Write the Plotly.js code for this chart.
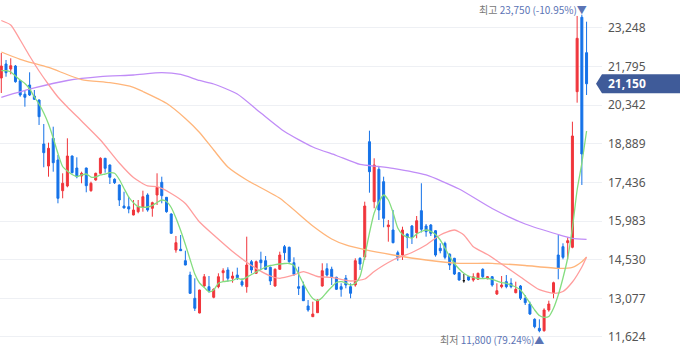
<!DOCTYPE html>
<html><head><meta charset="utf-8">
<script src="https://cdn.plot.ly/plotly-3.0.1.min.js"></script>
<style>html,body{margin:0;padding:0;background:#fff;} #chart{width:680px;height:358px;}</style>
</head><body><div id="chart"></div>
<script>
// Daily candles (125 sessions)
const openP = [21367,21893,21705,21818,21265,20754,21103,20690,20539,18884,
18056,19098,18282,17127,17304,18432,17981,17680,17981,17127,
17529,17781,18346,18094,17556,17342,16551,16525,16213,16337,
16503,16965,16465,16965,17443,16879,16250,14896,14923,14494,
13956,13079,12526,13542,13516,13117,13516,14042,14144,13832,
13956,13704,13516,14456,14019,14520,14494,14246,13542,14170,
15021,14998,14418,13516,13542,12790,12387,12537,13542,14193,
14170,13869,13516,13832,13516,13579,14584,14633,18970,16713,
17932,17466,15773,15648,14795,14708,15498,15799,15547,16375,
15799,15837,15622,14960,15148,14735,14584,14042,13741,13892,
13767,13794,14170,13817,13892,13241,13516,13704,13644,13290,
13542,13079,12864,12289,11950,11860,12639,13290,14708,15021,
15171,14998,20852,23651,22319];
const highP = [22307,22044,22108,21856,21291,20915,21581,20915,20560,19636,
18933,19535,18470,17781,19098,18450,18383,17842,17992,17466,
17804,18383,18360,18110,17594,17360,17089,16901,16777,16777,
17127,17029,16713,17781,17654,16890,16277,15423,15460,14870,
14080,13832,13400,13993,13918,13455,14019,14208,14246,14080,
14231,13832,15397,14520,14501,14832,14670,14268,14208,14832,
15085,15021,14621,14268,13704,13015,12951,13034,14396,14396,
14268,13892,13644,13956,13644,14584,14621,16713,19384,18346,
18030,17654,16025,16401,14870,15773,15524,15837,16175,17406,
15874,15874,15648,15148,15209,14772,14600,14055,13993,13900,
14019,14042,14208,13918,13918,13644,13918,13956,13832,13704,
13579,13203,12951,12327,12289,12703,12989,13704,15460,15148,
15374,19723,23700,23750,23485];
const lowP = [20802,21416,21506,21190,20663,20287,20690,20539,19599,18008,
17654,17842,16653,16841,17255,17781,17594,17406,17067,17089,
17503,17744,17804,17379,17379,16551,16465,16277,16200,16277,
16337,16337,16149,16589,16653,16299,15498,14795,14860,14320,
13241,12602,12515,13516,13290,13079,13455,13704,13704,13666,
13767,13516,13290,14019,13993,14144,14144,13579,13516,14163,
14520,14418,13918,13203,12980,12575,12380,12526,13516,13892,
13579,13391,13139,13455,13079,13516,14144,14520,17052,16465,
16025,15750,15209,15148,14494,14520,14960,15122,15337,15555,
15397,15423,14645,14772,14546,14144,13956,13741,13666,13741,
13704,13767,13832,13794,13516,13203,13455,13455,13455,13267,
13015,12827,12451,11950,11800,11823,12575,13079,13794,14546,
14546,14960,20438,17342,20727];
const closeP = [21818,21566,21829,21228,20727,20641,20727,20566,19911,18557,
18722,18180,16841,17406,18432,17804,17654,17781,17315,17406,
17781,18346,17970,17631,17428,16777,16476,16439,16401,16525,
16901,16401,16676,17255,16939,16337,15524,15171,14870,14332,
13267,12703,13391,13892,13365,13417,13892,14117,13832,13918,
13854,13579,14332,14144,14456,14418,14170,13730,14170,14708,
14795,14456,13982,13455,12989,12639,12489,13015,14117,13956,
13892,13417,13417,13579,13267,14494,14369,16551,17842,18094,
16401,16089,15837,15171,14621,15648,15374,15374,15998,15675,
15585,15524,14708,14870,14621,14332,13993,13767,13741,13767,
13892,14019,13892,13892,13579,13365,13579,13516,13516,13417,
13079,12914,12489,12011,11860,12639,12864,13666,14208,14621,
15246,19185,22860,18508,21150];

// Moving averages
const ma5 = [21641,21641,21592,21442,21291,21160,20953,20652,20389,20050,
19636,19109,18526,18037,17868,17736,17661,17718,17755,17642,
17642,17718,17755,17804,17781,17548,17210,16890,16675,16525,
16503,16514,16570,16683,16777,16721,16495,16100,15630,15103,
14539,13993,13655,13485,13327,13391,13644,13704,13730,13749,
13832,13786,13869,13974,14068,14163,14256,14313,14343,14369,
14388,14388,14313,13993,13636,13316,13071,12989,13109,13316,
13504,13673,13704,13655,13579,13644,13899,14670,15536,16288,
16702,16965,16777,16307,15724,15479,15385,15347,15498,15592,
15648,15600,15479,15272,14971,14652,14388,14181,14019,13918,
13862,13824,13824,13824,13794,13730,13673,13644,13579,13504,
13391,13165,12902,12639,12432,12364,12394,12703,13203,13843,
14595,15724,17153,18169,19373];
const ma20X = [0,2,4,6,8,10,12,14,17,21,25,28,31,33,36,39,42,45,49,53,57,59,62,64,67,70,74,77,79,83,87,90,93,96,98,100,103,106,110,114,117,119,121,123,124];
const ma20 = [23530,23361,22796,22195,21630,21122,20652,20276,19749,19034,18169,17624,17304,17278,17022,16645,15950,15460,14840,14313,13918,13832,13956,14080,13899,13862,13730,13805,14088,14520,14802,15085,15460,15648,15460,15021,14727,14370,13881,13403,13267,13335,13692,14257,14633];
const ma60X = [0,4,10,17,23,28,30,35,39,42,45,48,52,59,66,70,73,77,83,90,97,104,111,118,121,123,124];
const ma60 = [22345,22070,21762,21310,21190,21017,20859,20415,19843,19317,18658,18019,17529,16841,15799,15310,15085,14908,14708,14520,14396,14396,14313,14208,14246,14456,14633];
const ma120X = [0,7,14,21,28,34,38,42,45,50,55,60,66,71,76,80,83,90,97,104,111,118,121,124];
const ma120 = [20641,20991,21273,21416,21480,21566,21499,21273,21141,20765,20050,19354,18771,18451,18113,18037,17970,17718,17191,16458,15874,15479,15336,15299];

const yTicks = [11624,13077,14530,15983,17436,18889,20342,21795,23248];

const UP = '#f0353b', DOWN = '#1572e8', FLAT = '#111111';
const fmt = v => v.toLocaleString('en-US');
const idx = openP.map((_, i) => i);
const moving = idx.filter(i => openP[i] !== closeP[i]);
const flat = idx.filter(i => openP[i] === closeP[i]);
const pick = (arr, ids) => ids.map(i => arr[i]);

function candle(ids, upC, dnC) {
  return {
    type: 'candlestick', x: ids, open: pick(openP, ids), high: pick(highP, ids),
    low: pick(lowP, ids), close: pick(closeP, ids), hoverinfo: 'skip',
    increasing: {line: {color: upC, width: 1}, fillcolor: upC},
    decreasing: {line: {color: dnC, width: 1}, fillcolor: dnC},
    whiskerwidth: 0
  };
}
function maLine(x, y, color) {
  return {type: 'scatter', mode: 'lines', x: x, y: y, hoverinfo: 'skip',
    line: {color: color, width: 1.3, shape: 'spline', smoothing: 0.6}};
}

const traces = [
  candle(moving, UP, DOWN),
  candle(flat, FLAT, FLAT),
  maLine(ma120X, ma120, '#c08cf7'),
  maLine(ma60X, ma60, '#ffb57a'),
  maLine(ma20X, ma20, '#ff9d9d'),
  maLine(idx, ma5, '#84dd7f')
];

const hi = Math.max(...highP), lo = Math.min(...lowP);
const hiIdx = highP.indexOf(hi), loIdx = lowP.indexOf(lo);
const last = closeP[closeP.length - 1];
const pctHi = ((last / hi - 1) * 100).toFixed(2);
const pctLo = ((last / lo - 1) * 100).toFixed(2);
const KFONT = "'Noto Sans CJK KR', 'Noto Sans', sans-serif";

const layout = {
  width: 680, height: 358,
  margin: {l: 0, r: 78, t: 0, b: 0, pad: 0},
  paper_bgcolor: '#ffffff', plot_bgcolor: '#ffffff',
  showlegend: false, hovermode: false,
  boxgap: 0.3, boxgroupgap: 0.4,
  xaxis: {range: [-0.275, 127.27], showgrid: false, zeroline: false, showticklabels: false,
    showline: false, ticks: '', rangeslider: {visible: false}, fixedrange: true},
  yaxis: {side: 'right', range: [10833, 24301], tickvals: yTicks, ticktext: yTicks.map(fmt),
    showgrid: true, gridcolor: '#eef0f4', gridwidth: 1, zeroline: false, showline: false,
    ticks: '', ticklabelstandoff: 5, fixedrange: true,
    tickfont: {family: "'Noto Sans', sans-serif", size: 12, color: '#555555'}},
  shapes: [{
    type: 'path', xref: 'paper', yref: 'y', xsizemode: 'pixel', ysizemode: 'pixel',
    xanchor: 1, yanchor: last, path: 'M -6 0 L 0 9.5 L 78 9.5 L 78 -9.5 L 0 -9.5 Z',
    fillcolor: '#3f5b99', line: {width: 0}, layer: 'above'
  }],
  annotations: [
    {xref: 'x', yref: 'paper', x: hiIdx, y: 1, xanchor: 'right', yanchor: 'top',
     xshift: 6, yshift: -1, showarrow: false, borderpad: 0,
     text: "<span style='color:#777777'>최고</span> " + fmt(hi) + ' (' + pctHi + '%)▼',
     font: {family: KFONT, size: 10, color: '#5b74b5'}},
    {xref: 'x', yref: 'y', x: loIdx, y: lo, xanchor: 'right', yanchor: 'top',
     xshift: 6, yshift: 1, showarrow: false, borderpad: 0,
     text: "<span style='color:#777777'>최저</span> " + fmt(lo) + ' (' + pctLo + '%)▲',
     font: {family: KFONT, size: 10, color: '#5b74b5'}},
    {xref: 'paper', yref: 'y', x: 1, y: last, xanchor: 'left', yanchor: 'middle',
     xshift: 4, showarrow: false, text: '<b>' + fmt(last) + '</b>',
     font: {family: "'Noto Sans', sans-serif", size: 12, color: '#ffffff'}}
  ]
};

Plotly.newPlot('chart', traces, layout, {displayModeBar: false, staticPlot: true});
</script>
</body></html>
